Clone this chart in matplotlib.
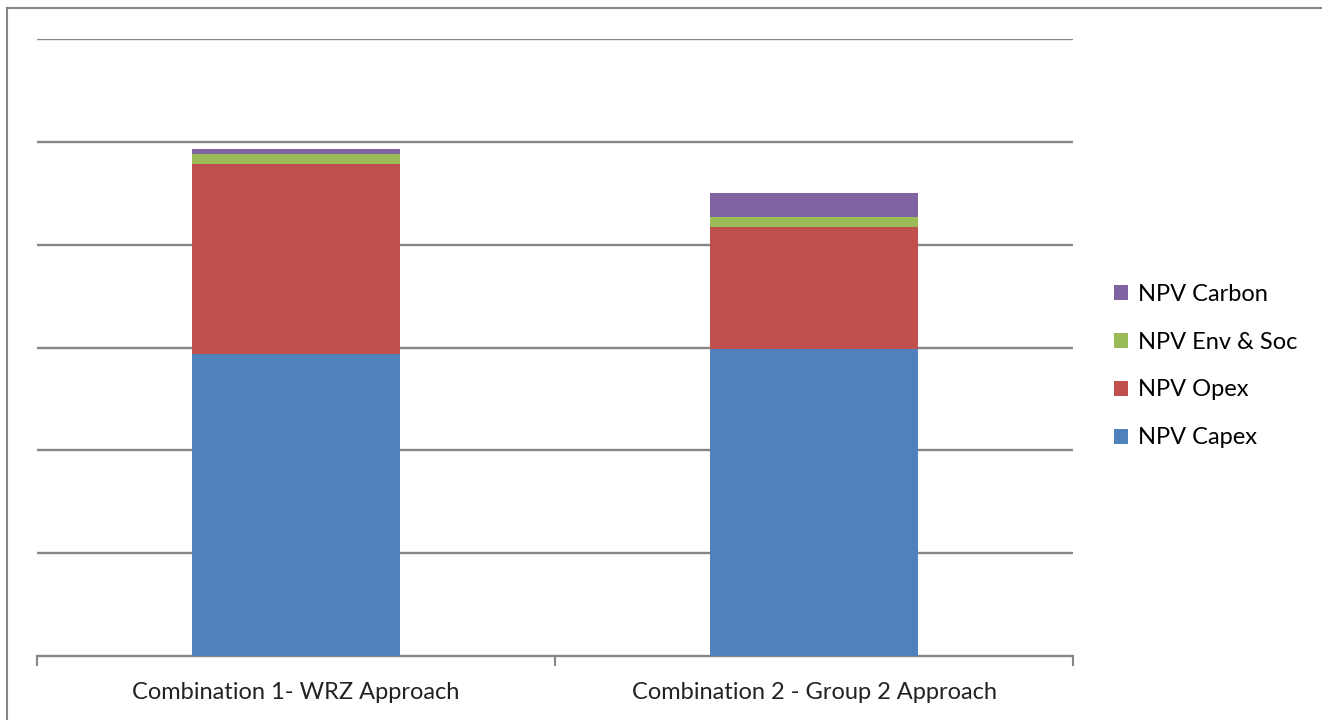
import numpy as np
import matplotlib
matplotlib.use("Agg")
import matplotlib.pyplot as plt
from matplotlib.lines import Line2D

categories = ["Combination 1- WRZ Approach", "Combination 2 - Group 2 Approach"]
capex = [2.94, 2.99]
opex = [1.84, 1.18]
env_soc = [0.10, 0.10]
carbon = [0.05, 0.23]

series = [("NPV Capex", capex, "#4F81BD"),
          ("NPV Opex", opex, "#C0504D"),
          ("NPV Env & Soc", env_soc, "#9BBB59"),
          ("NPV Carbon", carbon, "#8064A2")]

plt.rcParams['font.family'] = ['Lato', 'DejaVu Sans']

fig = plt.figure(figsize=(13.22, 7.2), dpi=100)
ax = fig.add_axes([37/1322, 64/720, (1073-37)/1322, (656-39)/720])

x = np.arange(len(categories))
bottom = np.zeros(len(categories))
handles = []
for name, vals, col in series:
    b = ax.bar(x, vals, 0.4, bottom=bottom, color=col, label=name, zorder=3)
    bottom += np.array(vals)
    handles.append(b)

ax.set_xlim(-0.5, 1.5)
ax.set_ylim(0, 6)
ax.set_yticks(range(1, 7))
ax.yaxis.grid(True, color="#868686", linewidth=1.7, zorder=0)
ax.tick_params(axis="y", left=False, labelleft=False)
for s in ["left", "right", "top"]:
    ax.spines[s].set_visible(False)
ax.spines["bottom"].set_color("#868686")
ax.spines["bottom"].set_linewidth(1.7)

ax.set_xticks(x)
ax.set_xticklabels(categories, fontsize=17, color="#222222")
ax.tick_params(axis="x", which="major", length=0, pad=19)
ax.set_xticks([-0.5, 0.5, 1.5], minor=True)
ax.tick_params(axis="x", which="minor", length=7, width=1.5, color="#868686")

leg = fig.legend(handles[::-1], [s[0] for s in series][::-1],
                 loc="center left", bbox_to_anchor=(1093/1322, 1 - 366/720),
                 frameon=False, fontsize=17, handlelength=0.6, handleheight=0.6,
                 handletextpad=0.4, labelspacing=1.14)

# outer chart frame
fig.add_artist(Line2D([7/1322, 7/1322], [0, 1 - 8/720], color="#868686", linewidth=1.5))
fig.add_artist(Line2D([7/1322, 1], [1 - 8/720, 1 - 8/720], color="#868686", linewidth=1.5))

fig.savefig("out.png", dpi=100)
